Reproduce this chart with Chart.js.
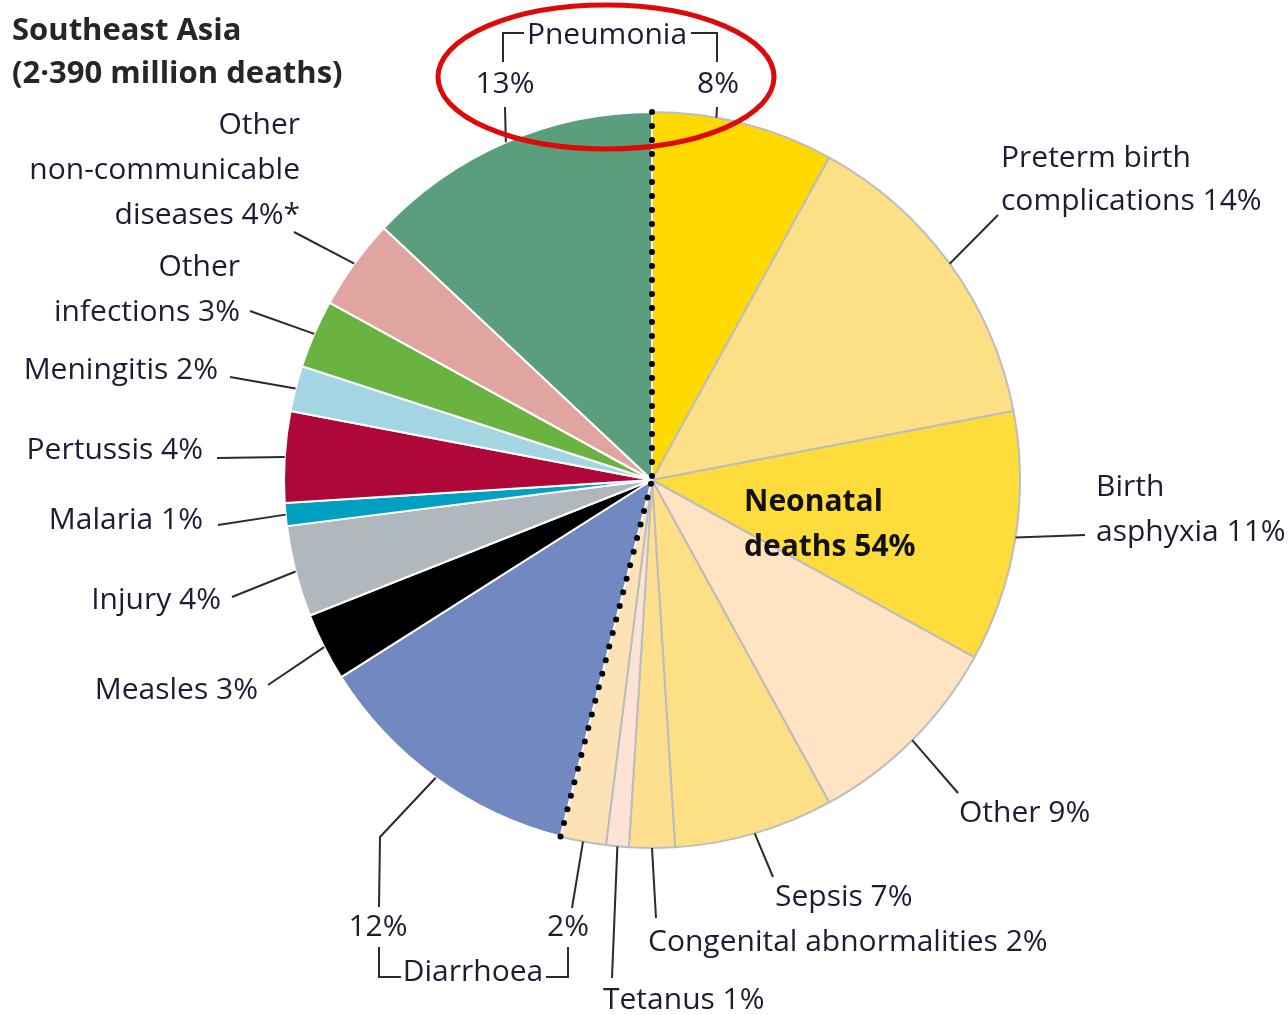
<!DOCTYPE html>
<html>
<head>
<meta charset="utf-8">
<script src="https://cdn.jsdelivr.net/npm/chart.js@4.4.1/dist/chart.umd.min.js"></script>
<style>
  html, body { margin: 0; padding: 0; background: #fff; }
  #wrap { width: 1288px; height: 1015px; position: relative; }
</style>
</head>
<body>
<div id="wrap"><canvas id="pie" width="1288" height="1015"></canvas></div>
<script>
// causes clockwise from 12 o'clock
var causes = ['Pneumonia (neonatal)', 'Preterm birth complications', 'Birth asphyxia', 'Other (neonatal)',
  'Sepsis', 'Congenital abnormalities', 'Tetanus', 'Diarrhoea (neonatal)', 'Diarrhoea', 'Measles',
  'Injury', 'Malaria', 'Pertussis', 'Meningitis', 'Other infections', 'Other non-communicable diseases', 'Pneumonia'];
var shares = [8, 14, 11, 9, 7, 2, 1, 2, 12, 3, 4, 1, 4, 2, 3, 4, 13];
var isNeonatal = [true, true, true, true, true, true, true, true, false, false, false, false, false, false, false, false, false];
var sliceColors = ['#FFDA00', '#FDDF85', '#FDDC3C', '#FEE4C3', '#FDDF85', '#FDDF8F', '#FDE3D6', '#FDE2B5',
  '#7189C0', '#000000', '#B1B8BD', '#00A0C2', '#B0073A', '#A3D5E3', '#6BB340', '#E0A5A0', '#5B9E7D'];
var regionTitle = ['Southeast Asia', '(2·390 million deaths)'];
var neonatalTotal = 54;

var FONT = '"Open Sans", "Noto Sans", sans-serif';
var INK = '#1e1c33';

// label placement: slice index, where the leader leaves the rim, leader bends, text lines and anchor
var labelLayout = [
  { i: 0, frac: 0.35, line: [[717, 107]], text: ['8%'], x: 718, y: 84, align: 'center' },
  { i: 1, line: [[998, 215]], text: ['Preterm birth', 'complications 14%'], x: 1001, y: 158, align: 'left', lh: 43 },
  { i: 2, line: [[1085, 535]], text: ['Birth', 'asphyxia 11%'], x: 1096, y: 487, align: 'left' },
  { i: 3, line: [[958, 793]], text: ['Other 9%'], x: 959, y: 813, align: 'left' },
  { i: 4, line: [[773, 877]], text: ['Sepsis 7%'], x: 775, y: 897, align: 'left' },
  { i: 5, line: [[656, 918]], text: ['Congenital abnormalities 2%'], x: 648, y: 942, align: 'left' },
  { i: 6, line: [[612, 978]], text: ['Tetanus 1%'], x: 603, y: 1000, align: 'left' },
  { i: 7, line: [[572, 908]], text: ['2%'], x: 568, y: 927, align: 'center' },
  { i: 8, line: [[380, 837], [379, 907]], text: ['12%'], x: 378, y: 927, align: 'center' },
  { i: 9, line: [[268, 685]], text: ['Measles 3%'], x: 258, y: 690, align: 'right' },
  { i: 10, line: [[232, 597]], text: ['Injury 4%'], x: 221, y: 600, align: 'right' },
  { i: 11, line: [[218, 525]], text: ['Malaria 1%'], x: 203, y: 520, align: 'right' },
  { i: 12, line: [[217, 458]], text: ['Pertussis 4%'], x: 203, y: 450, align: 'right' },
  { i: 13, line: [[230, 377]], text: ['Meningitis 2%'], x: 218, y: 370, align: 'right' },
  { i: 14, line: [[250, 311]], text: ['Other', 'infections 3%'], x: 240, y: 267, align: 'right' },
  { i: 15, line: [[294, 232]], text: ['Other', 'non-communicable', 'diseases 4%*'], x: 300, y: 125, align: 'right', lh: 45 },
  { i: 16, frac: 0.5, line: [[505, 107]], text: ['13%'], x: 505, y: 84, align: 'center' }
];

function polyline(ctx, pts) {
  ctx.beginPath();
  ctx.moveTo(pts[0][0], pts[0][1]);
  for (var k = 1; k < pts.length; k++) ctx.lineTo(pts[k][0], pts[k][1]);
  ctx.stroke();
}

var annotate = {
  id: 'annotate',
  afterDraw: function (chart) {
    var ctx = chart.ctx;
    var arcs = chart.getDatasetMeta(0).data;
    var cx = arcs[0].x, cy = arcs[0].y, r = arcs[0].outerRadius;

    function rim(a) { return [cx + r * Math.cos(a), cy + r * Math.sin(a)]; }

    ctx.save();
    // dotted border of the neonatal share
    ctx.strokeStyle = '#000';
    ctx.lineWidth = 6;
    ctx.lineCap = 'round';
    ctx.setLineDash([0, 14]);
    [arcs[0].startAngle, arcs[7].endAngle].forEach(function (a) {
      var p = rim(a);
      polyline(ctx, [p, [cx, cy]]);
    });
    ctx.setLineDash([]);

    // leader lines
    ctx.strokeStyle = '#2b2b2b';
    ctx.lineWidth = 2;
    ctx.lineCap = 'butt';
    labelLayout.forEach(function (l) {
      var arc = arcs[l.i];
      var f = l.frac === undefined ? 0.5 : l.frac;
      var p = rim(arc.startAngle + (arc.endAngle - arc.startAngle) * f);
      polyline(ctx, [p].concat(l.line));
    });

    // brackets for the split causes
    polyline(ctx, [[503, 62], [503, 33], [524, 33]]);
    polyline(ctx, [[691, 33], [717, 33], [717, 62]]);
    polyline(ctx, [[379, 947], [379, 977], [401, 977]]);
    polyline(ctx, [[546, 977], [568, 977], [568, 947]]);

    // label text
    ctx.fillStyle = INK;
    ctx.textBaseline = 'middle';
    ctx.font = '30px ' + FONT;
    labelLayout.forEach(function (l) {
      ctx.textAlign = l.align;
      var lh = l.lh || 45;
      l.text.forEach(function (t, k) { ctx.fillText(t, l.x, l.y + k * lh); });
    });
    ctx.textAlign = 'center';
    ctx.fillText('Pneumonia', 607, 35);
    ctx.fillText('Diarrhoea', 473, 972);

    // neonatal total
    ctx.textAlign = 'left';
    ctx.fillStyle = '#111';
    ctx.font = 'bold 30px ' + FONT;
    ctx.fillText('Neonatal', 744, 502);
    ctx.fillText('deaths ' + neonatalTotal + '%', 744, 547);

    // title
    ctx.fillStyle = '#262626';
    ctx.font = 'bold 31px ' + FONT;
    ctx.fillText(regionTitle[0], 12, 31);
    ctx.fillText(regionTitle[1], 12, 74);

    // red highlight ring
    ctx.strokeStyle = '#DD0A0A';
    ctx.lineWidth = 5;
    ctx.beginPath();
    ctx.ellipse(606, 77, 168, 72, 0, 0, Math.PI * 2);
    ctx.stroke();
    ctx.restore();
  }
};

new Chart(document.getElementById('pie'), {
  type: 'pie',
  data: {
    labels: causes,
    datasets: [{
      data: shares,
      backgroundColor: sliceColors,
      borderColor: isNeonatal.map(function (n) { return n ? '#BDBDBD' : '#FFFFFF'; }),
      borderWidth: 2
    }]
  },
  options: {
    responsive: false,
    animation: false,
    devicePixelRatio: 1,
    layout: { padding: { left: 283, right: 267, top: 111, bottom: 166 } },
    plugins: { legend: { display: false }, tooltip: { enabled: false } }
  },
  plugins: [annotate]
});
</script>
</body>
</html>
